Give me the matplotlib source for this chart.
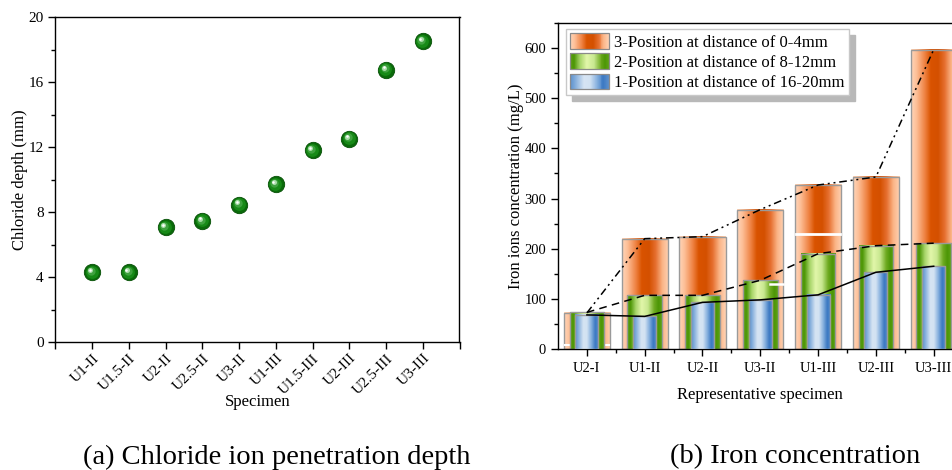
import numpy as np
import matplotlib
matplotlib.use("Agg")
import matplotlib.pyplot as plt
from matplotlib.colors import LinearSegmentedColormap
from matplotlib.patches import Rectangle, Patch
from matplotlib.legend_handler import HandlerBase
from matplotlib.transforms import ScaledTranslation

plt.rcParams['font.family'] = ['Liberation Serif', 'DejaVu Serif']
plt.rcParams['mathtext.fontset'] = 'stix'

# ---------------- data ----------------
specimens_a = ["U1-II", "U1.5-II", "U2-II", "U2.5-II", "U3-II",
               "U1-III", "U1.5-III", "U2-III", "U2.5-III", "U3-III"]
chloride_depth = [4.3, 4.3, 7.05, 7.45, 8.45, 9.7, 11.8, 12.5, 16.75, 18.5]

specimens_b = ["U2-I", "U1-II", "U2-II", "U3-II", "U1-III", "U2-III", "U3-III"]
iron_0_4 = [72, 220, 224, 278, 327, 343, 597]
iron_8_12 = [73, 107, 107, 137, 190, 206, 211]
iron_16_20 = [68, 65, 93, 98, 108, 153, 165]
labels_b = ["3-Position at distance of 0-4mm",
            "2-Position at distance of 8-12mm",
            "1-Position at distance of 16-20mm"]

# white artifact strokes seen in the figure: (category index, value)
white_under = [(0, 8)]
white_over = [(4, 229)]
white_short = [(3, 130)]

W, H = 953, 470
fig = plt.figure(figsize=(W / 100, H / 100), dpi=100)

# ---------------- (a) ----------------
ax1 = fig.add_axes([55.5 / W, 1 - 342 / H, 404 / W, 325 / H])
xa = np.arange(len(specimens_a))
ax1.plot(xa, chloride_depth, 'o', ms=11.8, mfc='#0A6A0A', mec='#055005', mew=0.6, zorder=3)
layers = [(9.2, '#178A17', -0.4), (6.0, '#3FA23F', -1.0), (3.6, '#A8DCA8', -1.6), (1.8, '#FFFFFF', -1.8)]
for ms, col, off in layers:
    tr = ax1.transData + ScaledTranslation(off / 72, -off / 72, fig.dpi_scale_trans)
    ax1.plot(xa, chloride_depth, 'o', ms=ms, mfc=col, mec='none', transform=tr, zorder=4)
ax1.set_xlim(-1, 10)
ax1.set_ylim(0, 20)
ax1.set_yticks(np.arange(0, 21, 4))
ax1.set_yticks(np.arange(2, 20, 4), minor=True)
ax1.set_xticks(np.arange(-1, 11))
ax1.set_xticklabels([""] + specimens_a + [""], rotation=45, ha='right', va='top',
                    rotation_mode='anchor', fontsize=11)
ax1.tick_params(axis='both', which='major', direction='out', length=5, width=1, labelsize=11)
ax1.tick_params(axis='x', which='major', pad=2)
ax1.tick_params(axis='y', which='minor', direction='out', length=3, width=1)
ax1.set_xlabel("Specimen", fontsize=12, labelpad=-2)
ax1.set_ylabel("Chloride depth (mm)", fontsize=12, labelpad=0)
for s in ax1.spines.values():
    s.set_linewidth(1.0)

# ---------------- (b) ----------------
cm_or = LinearSegmentedColormap.from_list('or', [
    (0, '#FFD6BA'), (0.12, '#FDBE96'), (0.3, '#EE8040'), (0.42, '#D95300'),
    (0.58, '#D45000'), (0.72, '#E67030'), (0.86, '#FBB486'), (1, '#FFD3B4')])
cm_gr = LinearSegmentedColormap.from_list('gr', [
    (0, '#5B9E12'), (0.1, '#4C9606'), (0.25, '#A6D468'), (0.42, '#E2F6AA'),
    (0.6, '#C8E890'), (0.78, '#6EAA20'), (0.9, '#4C9606'), (1, '#5EA216')])
cm_bl = LinearSegmentedColormap.from_list('bl', [
    (0, '#5A8FCB'), (0.12, '#7EAADA'), (0.35, '#D6E4F3'), (0.5, '#D2E2F2'),
    (0.68, '#86B0DE'), (0.85, '#3A78C2'), (1, '#5C90CC')])

ax2 = fig.add_axes([558 / W, 1 - 349 / H, 404.6 / W, 326 / H])
xb = np.arange(len(specimens_b))
grad = np.linspace(0, 1, 256)[None, :]


def grad_bars(ax, x, vals, width, cmap, z):
    bars = ax.bar(x, vals, width=width, facecolor='none', edgecolor='#9A9A9A',
                  linewidth=1.0, zorder=z + 0.5)
    for b in bars:
        x0, y0 = b.get_x(), b.get_y()
        ax.imshow(grad, cmap=cmap, extent=[x0, x0 + b.get_width(), y0, y0 + b.get_height()],
                  aspect='auto', origin='lower', interpolation='bilinear', zorder=z)
    return bars


grad_bars(ax2, xb, iron_0_4, 0.8, cm_or, 1)
for i, v in white_under:
    ax2.plot([i - 0.38, i + 0.38], [v, v], color='white', lw=1.5, zorder=1.8)
grad_bars(ax2, xb, iron_8_12, 0.6, cm_gr, 2)
for i, v in white_over:
    ax2.plot([i - 0.38, i + 0.38], [v, v], color='white', lw=2.0, zorder=2.8)
for i, v in white_short:
    ax2.plot([i + 0.17, i + 0.39], [v, v], color='white', lw=1.8, zorder=2.8)
grad_bars(ax2, xb, iron_16_20, 0.4, cm_bl, 3)

ax2.plot(xb, iron_16_20, color='black', lw=1.1, zorder=5)
ax2.plot(xb, iron_8_12, color='black', lw=1.1, dashes=(5, 3.5), zorder=5)
ax2.plot(xb, iron_0_4, color='black', lw=1.1, dashes=(5, 2.5, 1.3, 2.5, 1.3, 2.5), zorder=5)

ax2.set_xlim(-0.5, 6.5)
ax2.set_ylim(0, 650)
ax2.set_xticks(xb)
ax2.set_xticklabels(specimens_b)
ax2.set_xticks(xb[:-1] + 0.5, minor=True)
ax2.set_yticks(np.arange(0, 601, 100))
ax2.set_yticks(np.arange(50, 651, 100), minor=True)
ax2.tick_params(axis='both', which='major', direction='out', length=5, width=1, labelsize=10.5)
ax2.tick_params(axis='both', which='minor', direction='out', length=3, width=1)
ax2.tick_params(axis='x', which='major', pad=4)
ax2.set_xlabel("Representative specimen", fontsize=12, labelpad=9)
ax2.set_ylabel("Iron ions concentration (mg/L)", fontsize=12, labelpad=0)
for s in ax2.spines.values():
    s.set_linewidth(1.0)


class GradHandler(HandlerBase):
    def __init__(self, cmap):
        super().__init__()
        self.cmap = cmap

    def create_artists(self, legend, orig_handle, xdescent, ydescent, width, height, fontsize, trans):
        n = 40
        arts = []
        for k in range(n):
            arts.append(Rectangle((-xdescent + width * k / n, -ydescent), width / n * 1.08, height,
                                  facecolor=self.cmap((k + 0.5) / n), edgecolor='none',
                                  transform=trans))
        arts.append(Rectangle((-xdescent, -ydescent), width, height, facecolor='none',
                              edgecolor='#8A8A8A', lw=0.9, transform=trans))
        return arts


h_or, h_gr, h_bl = Patch(), Patch(), Patch()
leg = ax2.legend([h_or, h_gr, h_bl], labels_b,
                 handler_map={h_or: GradHandler(cm_or), h_gr: GradHandler(cm_gr), h_bl: GradHandler(cm_bl)},
                 loc='upper left', bbox_to_anchor=(8 / 404.6, 1 - 6 / 326), borderaxespad=0,
                 fontsize=12, fancybox=False, frameon=True, framealpha=1,
                 edgecolor='#C8C8C8', handlelength=2.35, handleheight=1.08,
                 labelspacing=0.16, handletextpad=0.3, borderpad=0.25,
                 shadow={'ox': 4, 'oy': -4, 'color': '#B8B8B8', 'alpha': 1})
leg.set_zorder(10)

fig.text(277 / W, 1 - 457 / H, "(a) Chloride ion penetration depth", fontsize=20.5,
         ha='center', va='center')
fig.text(795 / W, 1 - 457 / H, "(b) Iron concentration", fontsize=20.5,
         ha='center', va='center')

fig.savefig("out.png", dpi=100)
